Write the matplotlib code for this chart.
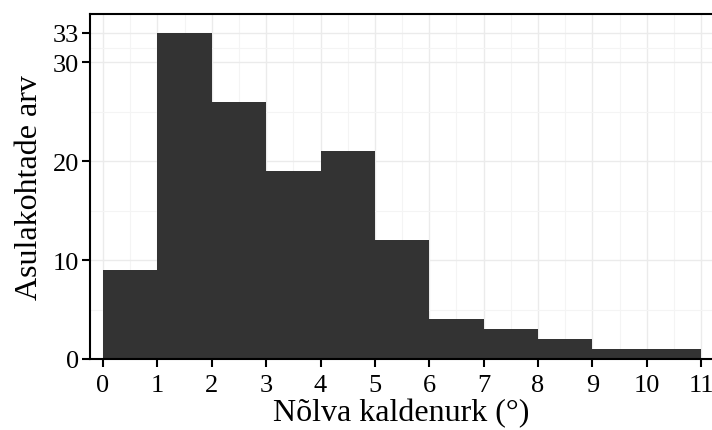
import matplotlib
matplotlib.use("Agg")
import matplotlib.pyplot as plt
import numpy as np

plt.rcParams['font.family'] = ['Liberation Serif', 'DejaVu Serif']

bin_edges = [0, 1, 2, 3, 4, 5, 6, 7, 8, 9, 10, 11]
counts = [9, 33, 26, 19, 21, 12, 4, 3, 2, 1, 1]
y_ticks = [0, 10, 20, 30, 33]
y_minor = [5, 15, 25, 31.5]
x_ticks = list(range(0, 12))

fig = plt.figure(figsize=(7.12, 4.31), dpi=100)
ax = fig.add_axes([90 / 712, 71 / 431, 622 / 712, 345 / 431])

ax.bar(bin_edges[:-1], counts, width=1, align='edge', color='#333333',
       linewidth=0, zorder=2)

ax.set_xlim(-0.24, 11.2)
ax.set_ylim(0, 34.9)
ax.set_xticks(x_ticks)
ax.set_xticks(np.arange(0.5, 11.5, 1), minor=True)
ax.set_yticks(y_ticks)
ax.set_yticks(y_minor, minor=True)

ax.grid(which='major', color='#ebebeb', linewidth=1.0, zorder=0)
ax.grid(which='minor', color='#f4f4f4', linewidth=0.8, zorder=0)
ax.set_axisbelow(True)

ax.tick_params(which='major', direction='out', length=6, width=1.5,
               color='black', labelsize=19, labelcolor='black')
ax.tick_params(axis='x', which='major', pad=5)
ax.tick_params(axis='y', which='major', pad=2)
ax.tick_params(which='minor', length=0)

for side in ['left', 'bottom', 'top']:
    ax.spines[side].set_linewidth(1.5)
    ax.spines[side].set_color('black')
ax.spines['right'].set_visible(False)

ax.set_xlabel('Nõlva kaldenurk (°)', fontsize=23, labelpad=1)
ax.set_ylabel('Asulakohtade arv', fontsize=23, labelpad=6)

fig.savefig("out.png", dpi=100)
